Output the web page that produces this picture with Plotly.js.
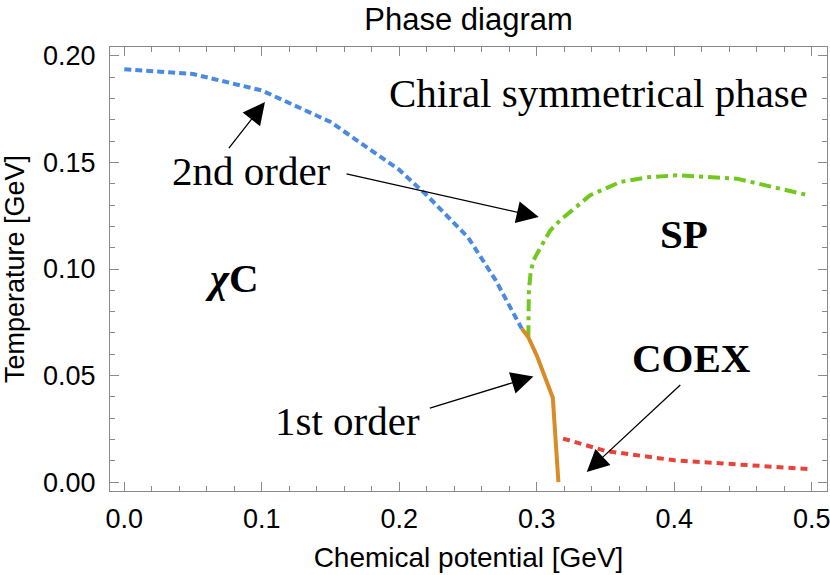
<!DOCTYPE html>
<html>
<head>
<meta charset="utf-8">
<script src="https://cdn.plot.ly/plotly-3.0.1.min.js"></script>
<style>html,body{margin:0;padding:0;background:#fff;}#plot{width:830px;height:575px;}</style>
</head>
<body>
<div id="plot"></div>
<script>
// 2nd order (crossover) line
var blueMu = [0, 0.05, 0.1, 0.15, 0.2, 0.22, 0.25, 0.27, 0.289];
var blueT  = [0.1938, 0.1915, 0.1838, 0.1690, 0.1465, 0.1346, 0.1148, 0.0948, 0.0720];
// 1st order line
var orangeMu = [0.289, 0.2938, 0.2999, 0.3116, 0.3157];
var orangeT  = [0.0720, 0.0680, 0.0595, 0.0396, 0.0];
// SP boundary
var greenMu = [0.2938, 0.2942, 0.2955, 0.2975, 0.300, 0.3096, 0.317, 0.3387, 0.3605, 0.38, 0.4017, 0.4454, 0.4975];
var greenT  = [0.068, 0.090, 0.0985, 0.104, 0.107, 0.118, 0.1229, 0.1346, 0.1408, 0.1430, 0.1440, 0.1424, 0.1346];
// COEX boundary
var redMu = [0.3191, 0.35, 0.40, 0.45, 0.4999];
var redT  = [0.0204, 0.0146, 0.0102, 0.0082, 0.0060];

var xTickVals = [0, 0.1, 0.2, 0.3, 0.4, 0.5];
var xTickText = ['0.0', '0.1', '0.2', '0.3', '0.4', '0.5'];
var yTickVals = [0, 0.05, 0.10, 0.15, 0.20];
var yTickText = ['0.00', '0.05', '0.10', '0.15', '0.20'];

var labelTexts = ['Chiral symmetrical phase', '2nd order', '1st order', '<b>SP</b>', '<b>COEX</b>', '<b><i>χ</i>C</b>'];
var labelX = [0.3445, 0.0927, 0.1623, 0.407, 0.4128, 0.078];
var labelY = [0.1825, 0.1459, 0.0285, 0.1164, 0.0582, 0.0958];

var arrowTipX  = [0.1023, 0.3014, 0.2975, 0.3363];
var arrowTipY  = [0.1784, 0.1244, 0.0496, 0.0047];
var arrowTailX = [0.0752, 0.1605, 0.2211, 0.4054];
var arrowTailY = [0.1560, 0.1448, 0.0345, 0.0462];

var traces = [
  {x: blueMu, y: blueT, mode: 'lines', line: {color: '#4a8ae0', width: 4, dash: '7px,4px'}},
  {x: greenMu, y: greenT, mode: 'lines', line: {color: '#72c81c', width: 4, dash: '12px,5px,4px,5px'}},
  {x: redMu, y: redT, mode: 'lines', line: {color: '#e8433a', width: 4, dash: '7px,5px'}},
  {x: orangeMu, y: orangeT, mode: 'lines', line: {color: '#d98b25', width: 4}}
];

var annotations = [];
for (var i = 0; i < labelTexts.length; i++) {
  annotations.push({
    x: labelX[i], y: labelY[i], xref: 'x', yref: 'y', text: labelTexts[i],
    showarrow: false, xanchor: 'center', yanchor: 'middle',
    font: {family: 'Liberation Serif, Times New Roman, serif', size: 41, color: '#000'}
  });
}
for (var j = 0; j < arrowTipX.length; j++) {
  annotations.push({
    x: arrowTipX[j], y: arrowTipY[j], ax: arrowTailX[j], ay: arrowTailY[j],
    xref: 'x', yref: 'y', axref: 'x', ayref: 'y', text: '',
    showarrow: true, arrowhead: 2, arrowsize: 3.4, arrowwidth: 1.3, arrowcolor: '#000', standoff: 0
  });
}

var axisCommon = {
  showline: true, linecolor: '#8a8a8a', linewidth: 1, mirror: 'ticks',
  ticks: 'inside', ticklen: 9, tickcolor: '#8a8a8a', tickwidth: 1,
  showgrid: false, zeroline: false, ticklabeloverflow: 'allow',
  tickfont: {family: 'Liberation Sans, Arial, sans-serif', size: 27, color: '#000'}
};

var layout = {
  width: 830, height: 575,
  margin: {l: 110, r: 3, t: 47, b: 84, pad: 0},
  paper_bgcolor: '#fff', plot_bgcolor: '#fff',
  showlegend: false,
  title: {text: 'Phase diagram', x: 0.5645, xanchor: 'center', y: 0.985, yanchor: 'top', yref: 'container',
          font: {family: 'Liberation Sans, Arial, sans-serif', size: 31, color: '#000'}},
  xaxis: Object.assign({}, axisCommon, {
    range: [-0.0104, 0.511], tickvals: xTickVals, ticktext: xTickText,
    minor: {dtick: 0.02, tick0: 0, ticks: 'inside', ticklen: 5, tickcolor: '#8a8a8a', tickwidth: 1, showgrid: false},
    ticklabelstandoff: 4,
    title: {text: 'Chemical potential [GeV]', standoff: 13, font: {family: 'Liberation Sans, Arial, sans-serif', size: 28, color: '#000'}}
  }),
  yaxis: Object.assign({}, axisCommon, {
    range: [-0.0042, 0.2042], tickvals: yTickVals, ticktext: yTickText,
    minor: {dtick: 0.01, tick0: 0, ticks: 'inside', ticklen: 5, tickcolor: '#8a8a8a', tickwidth: 1, showgrid: false},
    ticklabelstandoff: 8,
    title: {text: 'Temperature [GeV]', standoff: 10, font: {family: 'Liberation Sans, Arial, sans-serif', size: 27, color: '#000'}}
  }),
  annotations: annotations
};

Plotly.newPlot('plot', traces, layout, {displayModeBar: false, staticPlot: true});
</script>
</body>
</html>
